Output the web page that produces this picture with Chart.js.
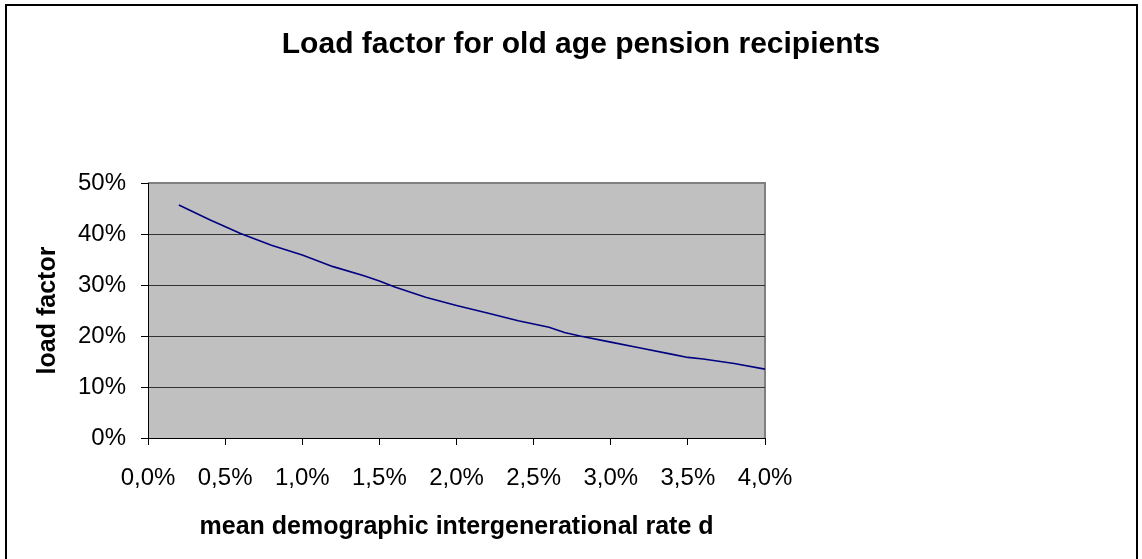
<!DOCTYPE html>
<html>
<head>
<meta charset="utf-8">
<script src="https://cdn.jsdelivr.net/npm/chart.js@4/dist/chart.umd.min.js"></script>
<style>
  html, body { margin: 0; padding: 0; background: #fff; }
  canvas { display: block; }
</style>
</head>
<body>
<canvas id="loadChart" width="1142" height="559"></canvas>
<script>
// data
const rateX = [0.2, 0.4, 0.6, 0.8, 1.0, 1.2, 1.4, 1.5, 1.6, 1.8, 2.0, 2.2, 2.4, 2.6, 2.7, 2.8, 3.0, 3.2, 3.4, 3.5, 3.6, 3.8, 4.0];
const loadFactor = [45.7, 42.8, 40.1, 37.8, 35.9, 33.6, 31.8, 30.8, 29.6, 27.6, 26.0, 24.5, 23.0, 21.7, 20.7, 20.0, 18.8, 17.6, 16.4, 15.8, 15.5, 14.6, 13.5];
const yTicks = [0, 10, 20, 30, 40, 50];
const xTicks = [0, 0.5, 1.0, 1.5, 2.0, 2.5, 3.0, 3.5, 4.0];

const FONT = '"Liberation Sans", Arial, sans-serif';

// grey plot area + outer frame
const plotBg = {
    id: 'plotBg',
    beforeDraw(chart) {
        const ctx = chart.ctx;
        const a = chart.chartArea;
        ctx.save();
        ctx.fillStyle = '#fff';
        ctx.fillRect(0, 0, chart.width, chart.height);
        ctx.fillStyle = '#C0C0C0';
        ctx.fillRect(a.left, a.top, a.right - a.left, a.bottom - a.top);
        ctx.strokeStyle = '#808080';
        ctx.lineWidth = 2;
        ctx.beginPath();
        ctx.moveTo(a.left, a.top);
        ctx.lineTo(a.right, a.top);
        ctx.lineTo(a.right, a.bottom);
        ctx.stroke();
        ctx.restore();
    },
    afterDraw(chart) {
        const ctx = chart.ctx;
        ctx.save();
        ctx.strokeStyle = '#000';
        ctx.lineWidth = 2;
        ctx.beginPath();
        ctx.moveTo(6, chart.height);
        ctx.lineTo(6, 5);
        ctx.lineTo(1137, 5);
        ctx.lineTo(1137, chart.height);
        ctx.stroke();
        ctx.restore();
    }
};

const pts = rateX.map((x, i) => ({ x: x, y: loadFactor[i] }));

new Chart(document.getElementById('loadChart').getContext('2d'), {
    type: 'line',
    data: {
        datasets: [{
            data: pts,
            borderColor: '#000080',
            borderWidth: 1.6,
            pointRadius: 0,
            tension: 0,
            fill: false
        }]
    },
    options: {
        responsive: false,
        animation: false,
        layout: { padding: { left: 20, right: 0, top: 0, bottom: 0 } },
        plugins: {
            legend: { display: false },
            tooltip: { enabled: false },
            title: {
                display: true,
                text: 'Load factor for old age pension recipients',
                color: '#000',
                font: { family: FONT, size: 30, weight: 'bold' },
                padding: { top: 27, bottom: 120 }
            }
        },
        scales: {
            x: {
                type: 'linear',
                min: 0,
                max: 4,
                afterBuildTicks(s) { s.ticks = xTicks.map(v => ({ value: v })); },
                afterFit(s) { s.height = 121; },
                ticks: {
                    color: '#000',
                    font: { family: FONT, size: 24 },
                    padding: 19,
                    maxRotation: 0,
                    autoSkip: false,
                    callback: v => v.toFixed(1).replace('.', ',') + '%'
                },
                grid: { drawOnChartArea: false, drawTicks: true, tickLength: 7, tickColor: '#000' },
                border: { display: true, color: '#000', width: 1 },
                title: {
                    display: true,
                    text: 'mean demographic intergenerational rate d',
                    color: '#000',
                    font: { family: FONT, size: 25, weight: 'bold' },
                    padding: 17
                }
            },
            y: {
                min: 0,
                max: 50,
                afterBuildTicks(s) { s.ticks = yTicks.map(v => ({ value: v })); },
                afterFit(s) { s.width = 128; },
                ticks: {
                    color: '#000',
                    font: { family: FONT, size: 24 },
                    padding: 15,
                    callback: v => v + '%'
                },
                grid: {
                    color: c => (c.tick && c.tick.value === 50) ? 'rgba(0,0,0,0)' : '#333',
                    lineWidth: 1,
                    tickLength: 7,
                    tickColor: '#000'
                },
                border: { display: true, color: '#000', width: 1 },
                title: {
                    display: true,
                    text: 'load factor',
                    color: '#000',
                    font: { family: FONT, size: 25, weight: 'bold' },
                    padding: 13
                }
            },
            spacer: {
                position: 'right',
                display: true,
                afterFit(s) { s.width = 377; },
                ticks: { display: false },
                grid: { display: false },
                border: { display: false }
            }
        }
    },
    plugins: [plotBg]
});
</script>
</body>
</html>
